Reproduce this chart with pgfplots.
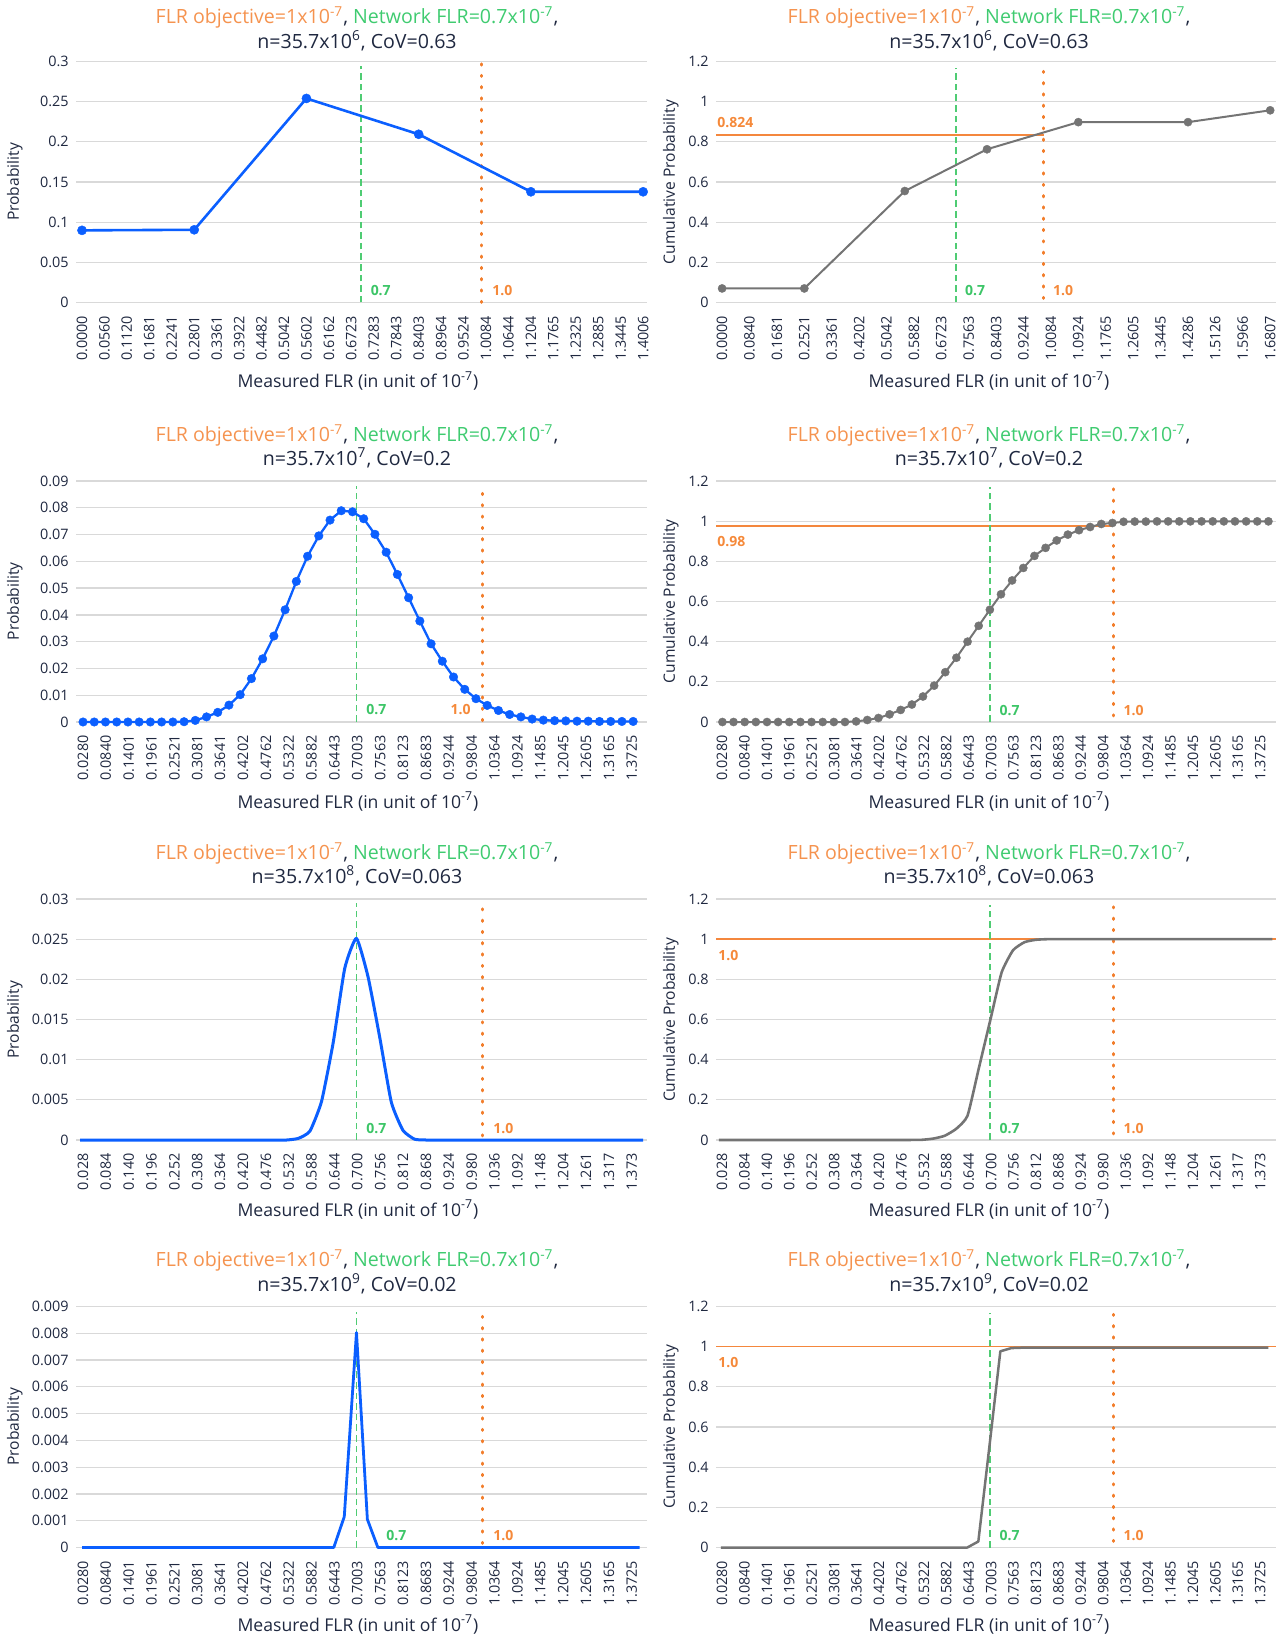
\documentclass[border=0pt]{standalone}
\usepackage{fontspec}
\setmainfont{Open Sans}
\usepackage{pgfplots}
\pgfplotsset{compat=1.18}

\definecolor{txt}{HTML}{1F2840}
\definecolor{gridc}{HTML}{D9D9D9}
\definecolor{blu}{HTML}{0B5FFF}
\definecolor{gry}{HTML}{747474}
\definecolor{orT}{HTML}{F5934F}
\definecolor{grT}{HTML}{3FCB70}
\definecolor{orL}{HTML}{F27E2C}
\definecolor{grL}{HTML}{4FCC73}
\definecolor{orH}{HTML}{F4873D}
\definecolor{orB}{HTML}{F5893A}
\definecolor{grB}{HTML}{3CC567}

\tikzset{
  grnline/.style={grL, line width=0.85pt, dash pattern=on 3.3pt off 2pt},
  ordots/.style={orL, line width=1.5pt, line cap=round, dash pattern=on 0.6pt off 5.05pt},
  bl/.style={blu, line width=1.3pt, line join=round},
  blm/.style={bl, mark=*, mark options={fill=blu, draw=blu, line width=0.2pt, solid}},
  gr/.style={gry, line width=1pt, line join=round},
  grm/.style={gr, mark=*, mark options={fill=gry, draw=gry, line width=0.2pt, solid}},
  orh/.style={orH, line width=0.8pt},
  lab/.style={font=\fontsize{7}{8}\selectfont\bfseries, inner sep=0pt},
  ttl/.style={anchor=base, font=\fontsize{9.8}{12}\selectfont, text=txt, inner sep=0pt},
  xl/.style={anchor=base, font=\fontsize{8.8}{11}\selectfont, text=txt, inner sep=0pt},
  yl/.style={rotate=90, font=\fontsize{7.8}{10}\selectfont, text=txt, inner sep=0pt},
}

\pgfplotsset{
  panel/.style={
    scale only axis, height=120.5pt, anchor=north west,
    axis line style={draw=none}, tick style={draw=none},
    ymajorgrids, major grid style={line width=0.65pt, draw=gridc},
    ymin=0, clip=false, scaled ticks=false,
    tick label style={font=\fontsize{7.2}{8}\selectfont, text=txt},
    xticklabel style={rotate=90, anchor=east, inner xsep=6.5pt, inner ysep=0pt},
    yticklabel style={anchor=east, inner xsep=3.5pt, inner ysep=0pt},
  },
  lpanel/.style={panel, width=285.25pt},
  rpanel/.style={panel, width=279.75pt},
  ticksA/.style={
    xtick={0.0000,0.0560,0.1120,0.1681,0.2241,0.2801,0.3361,0.3922,0.4482,0.5042,0.5602,0.6162,0.6723,0.7283,0.7843,0.8403,0.8964,0.9524,1.0084,1.0644,1.1204,1.1765,1.2325,1.2885,1.3445,1.4006},
    xticklabels={0.0000,0.0560,0.1120,0.1681,0.2241,0.2801,0.3361,0.3922,0.4482,0.5042,0.5602,0.6162,0.6723,0.7283,0.7843,0.8403,0.8964,0.9524,1.0084,1.0644,1.1204,1.1765,1.2325,1.2885,1.3445,1.4006}},
  ticksP/.style={
    xtick={0.0000,0.0840,0.1681,0.2521,0.3361,0.4202,0.5042,0.5882,0.6723,0.7563,0.8403,0.9244,1.0084,1.0924,1.1765,1.2605,1.3445,1.4286,1.5126,1.5966,1.6807},
    xticklabels={0.0000,0.0840,0.1681,0.2521,0.3361,0.4202,0.5042,0.5882,0.6723,0.7563,0.8403,0.9244,1.0084,1.0924,1.1765,1.2605,1.3445,1.4286,1.5126,1.5966,1.6807}},
  ticksB/.style={
    xtick={0.0280,0.0840,0.1401,0.1961,0.2521,0.3081,0.3641,0.4202,0.4762,0.5322,0.5882,0.6443,0.7003,0.7563,0.8123,0.8683,0.9244,0.9804,1.0364,1.0924,1.1485,1.2045,1.2605,1.3165,1.3725},
    xticklabels={0.0280,0.0840,0.1401,0.1961,0.2521,0.3081,0.3641,0.4202,0.4762,0.5322,0.5882,0.6443,0.7003,0.7563,0.8123,0.8683,0.9244,0.9804,1.0364,1.0924,1.1485,1.2045,1.2605,1.3165,1.3725}},
  ticksC/.style={
    xtick={0.0280,0.0840,0.1401,0.1961,0.2521,0.3081,0.3641,0.4202,0.4762,0.5322,0.5882,0.6443,0.7003,0.7563,0.8123,0.8683,0.9244,0.9804,1.0364,1.0924,1.1485,1.2045,1.2605,1.3165,1.3725},
    xticklabels={0.028,0.084,0.140,0.196,0.252,0.308,0.364,0.420,0.476,0.532,0.588,0.644,0.700,0.756,0.812,0.868,0.924,0.980,1.036,1.092,1.148,1.204,1.261,1.317,1.373}},
  cdfy/.style={ymax=1.2, ytick={0,0.2,0.4,0.6,0.8,1,1.2}, yticklabels={0,0.2,0.4,0.6,0.8,1,1.2}},
  lx/.style={xmin=0.0111, xmax=1.4085},
  rx/.style={xmin=0.0128, xmax=1.4107},
}

\newcommand\ttlA{{\color{orT}FLR objective=1x10\textsuperscript{-7}}, {\color{grT}Network FLR=0.7x10\textsuperscript{-7}},}
\newcommand\xlab{Measured FLR (in unit of 10\textsuperscript{-7})}

\begin{document}
\begin{tikzpicture}

% ---------------- Row 1 ----------------
\node[ttl] at (178.5pt,-11.8pt) {\ttlA};
\node[ttl] at (178.5pt,-24.05pt) {n=35.7x10\textsuperscript{6}, CoV=0.63};
\node[ttl] at (494.5pt,-11.8pt) {\ttlA};
\node[ttl] at (494.5pt,-24.05pt) {n=35.7x10\textsuperscript{6}, CoV=0.63};
\node[xl] at (179pt,-194pt) {\xlab};
\node[xl] at (494.5pt,-194pt) {\xlab};
\node[yl] at (7.35pt,-91pt) {Probability};
\node[yl] at (335.4pt,-91pt) {Cumulative Probability};

\begin{axis}[lpanel, at={(38pt,-30.75pt)}, ticksA, xmin=-0.015, xmax=1.409, ymax=0.3,
  ytick={0,0.05,0.1,0.15,0.2,0.25,0.3}, yticklabels={0,0.05,0.1,0.15,0.2,0.25,0.3}]
\addplot[grnline] coordinates {(0.696,0) (0.696,0.295)};
\addplot[ordots] coordinates {(0.996,0) (0.996,0.3)};
\addplot[blm, mark size=2.3pt] coordinates {(0,0.0898) (0.2801,0.0905) (0.5602,0.254) (0.8403,0.2094) (1.1204,0.1378) (1.4006,0.1378)};
\node[lab, text=grB, anchor=base west] at ([xshift=4.75pt,yshift=3.5pt]axis cs:0.696,0) {0.7};
\node[lab, text=orB, anchor=base west] at ([xshift=5.5pt,yshift=3.5pt]axis cs:0.996,0) {1.0};
\end{axis}

\begin{axis}[rpanel, at={(358pt,-30.75pt)}, ticksP, xmin=-0.0187, xmax=1.697, cdfy]
\addplot[orh] coordinates {(-0.0187,0.835) (0.986,0.835)};
\addplot[grnline] coordinates {(0.718,0) (0.718,1.17)};
\addplot[ordots] coordinates {(0.986,0.02) (0.986,1.17)};
\addplot[grm, mark size=2.05pt] coordinates {(0,0.07) (0.2521,0.07) (0.5602,0.555) (0.8123,0.763) (1.0924,0.898) (1.4286,0.898) (1.6807,0.957)};
\node[lab, text=orB, anchor=base west] at ([xshift=0.5pt,yshift=3.5pt]axis cs:-0.0187,0.835) {0.824};
\node[lab, text=grB, anchor=base west] at ([xshift=4.2pt,yshift=3.5pt]axis cs:0.718,0) {0.7};
\node[lab, text=orB, anchor=base west] at ([xshift=4.5pt,yshift=3.5pt]axis cs:0.986,0) {1.0};
\end{axis}

% ---------------- Row 2 ----------------
\node[ttl] at (178.5pt,-220.8pt) {\ttlA};
\node[ttl] at (178.5pt,-232.55pt) {n=35.7x10\textsuperscript{7}, CoV=0.2};
\node[ttl] at (494.5pt,-220.8pt) {\ttlA};
\node[ttl] at (494.5pt,-232.55pt) {n=35.7x10\textsuperscript{7}, CoV=0.2};
\node[xl] at (179pt,-404pt) {\xlab};
\node[xl] at (494.5pt,-404pt) {\xlab};
\node[yl] at (7.35pt,-300.6pt) {Probability};
\node[yl] at (335.4pt,-300.6pt) {Cumulative Probability};

\begin{axis}[lpanel, at={(38pt,-240.5pt)}, ticksB, lx, ymax=0.09,
  ytick={0,0.01,0.02,0.03,0.04,0.05,0.06,0.07,0.08,0.09}, yticklabels={0,0.01,0.02,0.03,0.04,0.05,0.06,0.07,0.08,0.09}]
\addplot[grnline] coordinates {(0.698,0) (0.698,0.088)};
\addplot[ordots] coordinates {(1.0057,0.0005) (1.0057,0.088)};
\addplot[blm, line width=1.15pt, mark size=2.15pt] coordinates {
(0.0283,0) (0.0558,0) (0.0833,0) (0.1108,0) (0.1383,0) (0.1658,0) (0.1933,0) (0.2208,0) (0.2483,0)
(0.2758,0.0001) (0.3033,0.0006) (0.3308,0.0019) (0.3583,0.0036) (0.3858,0.0063) (0.4133,0.0102)
(0.4408,0.0162) (0.4683,0.0236) (0.4958,0.0321) (0.5233,0.0419) (0.5508,0.0525) (0.5783,0.0619)
(0.6058,0.0695) (0.6333,0.0754) (0.6608,0.0789) (0.6883,0.0785) (0.7158,0.0759) (0.7433,0.0701)
(0.7708,0.0634) (0.7983,0.0551) (0.8258,0.0464) (0.8533,0.0377) (0.8808,0.0292) (0.9083,0.0227)
(0.9358,0.0168) (0.9633,0.0122) (0.9908,0.0087) (1.0183,0.0062) (1.0458,0.0043) (1.0733,0.0028)
(1.1008,0.0019) (1.1283,0.0011) (1.1558,0.0007) (1.1833,0.0005) (1.2108,0.0004) (1.2383,0.0003)
(1.2658,0.0003) (1.2933,0.0002) (1.3208,0.0002) (1.3483,0.0002) (1.3758,0.0002)};
\node[lab, text=grB, anchor=base west] at ([xshift=4.75pt,yshift=3.5pt]axis cs:0.698,0) {0.7};
\node[lab, text=orB, anchor=base east] at ([xshift=-5.5pt,yshift=3.5pt]axis cs:1.0057,0) {1.0};
\end{axis}

\begin{axis}[rpanel, at={(358pt,-240.5pt)}, ticksB, rx, cdfy]
\addplot[orh] coordinates {(0.0128,0.975) (1.0055,0.975)};
\addplot[grnline] coordinates {(0.698,0) (0.698,1.17)};
\addplot[ordots] coordinates {(1.0055,0.03) (1.0055,1.17)};
\addplot[grm, mark size=2.05pt] coordinates {
(0.0288,0) (0.0566,0) (0.0845,0) (0.1123,0) (0.1402,0) (0.1680,0) (0.1958,0) (0.2237,0) (0.2515,0)
(0.2794,0) (0.3072,0) (0.3350,0) (0.3629,0.003) (0.3907,0.010) (0.4186,0.020) (0.4464,0.038)
(0.4742,0.060) (0.5021,0.087) (0.5299,0.127) (0.5578,0.181) (0.5856,0.248) (0.6134,0.320)
(0.6413,0.400) (0.6691,0.479) (0.6970,0.559) (0.7248,0.636) (0.7526,0.705) (0.7805,0.767)
(0.8083,0.827) (0.8362,0.867) (0.8640,0.904) (0.8918,0.933) (0.9197,0.955) (0.9475,0.971)
(0.9754,0.986) (1.0032,0.991) (1.0310,0.997) (1.0589,0.998) (1.0867,0.998) (1.1146,0.999)
(1.1424,0.999) (1.1702,0.999) (1.1981,0.999) (1.2259,0.999) (1.2538,0.999) (1.2816,0.999)
(1.3094,0.999) (1.3373,0.999) (1.3651,0.999) (1.3930,0.999)};
\node[lab, text=orB, anchor=base west] at ([xshift=0.5pt,yshift=-10.15pt]axis cs:0.0128,0.975) {0.98};
\node[lab, text=grB, anchor=base west] at ([xshift=4.5pt,yshift=3.5pt]axis cs:0.698,0) {0.7};
\node[lab, text=orB, anchor=base west] at ([xshift=5pt,yshift=3.5pt]axis cs:1.0055,0) {1.0};
\end{axis}

% ---------------- Row 3 ----------------
\node[ttl] at (178.5pt,-429.8pt) {\ttlA};
\node[ttl] at (178.5pt,-441.55pt) {n=35.7x10\textsuperscript{8}, CoV=0.063};
\node[ttl] at (494.5pt,-429.8pt) {\ttlA};
\node[ttl] at (494.5pt,-441.55pt) {n=35.7x10\textsuperscript{8}, CoV=0.063};
\node[xl] at (179pt,-608.25pt) {\xlab};
\node[xl] at (494.5pt,-608.25pt) {\xlab};
\node[yl] at (7.35pt,-509.9pt) {Probability};
\node[yl] at (335.4pt,-509.9pt) {Cumulative Probability};

\begin{axis}[lpanel, at={(38pt,-449.5pt)}, ticksC, lx, ymax=0.03,
  ytick={0,0.005,0.01,0.015,0.02,0.025,0.03}, yticklabels={0,0.005,0.01,0.015,0.02,0.025,0.03}]
\addplot[grnline] coordinates {(0.698,0) (0.698,0.0295)};
\addplot[ordots] coordinates {(1.0057,0.0005) (1.0057,0.0293)};
\addplot[bl, line width=1.5pt, smooth, tension=0.3] coordinates {
(0.021,0) (0.47,0) (0.4985,0) (0.527,0) (0.5555,0.0002) (0.584,0.0011) (0.6125,0.0048)
(0.641,0.0121) (0.6695,0.0214) (0.698,0.0251) (0.7265,0.0203) (0.755,0.0128) (0.7835,0.0047)
(0.812,0.0012) (0.8405,0.0001) (0.869,0) (0.8975,0) (1.4003,0)};
\node[lab, text=grB, anchor=base west] at ([xshift=4.75pt,yshift=3.5pt]axis cs:0.698,0) {0.7};
\node[lab, text=orB, anchor=base west] at ([xshift=5.5pt,yshift=3.5pt]axis cs:1.0057,0) {1.0};
\end{axis}

\begin{axis}[rpanel, at={(358pt,-449.5pt)}, ticksC, rx, cdfy]
\addplot[orh] coordinates {(0.0128,1) (1.4107,1)};
\addplot[grnline] coordinates {(0.698,0) (0.698,1.17)};
\addplot[ordots] coordinates {(1.0055,0.03) (1.0055,1.17)};
\addplot[gr, line width=1.3pt, smooth, tension=0.3] coordinates {
(0.020,0) (0.44,0) (0.47,0) (0.4985,0.0003) (0.527,0.001) (0.5555,0.007) (0.584,0.021)
(0.6125,0.055) (0.641,0.12) (0.6695,0.358) (0.698,0.596) (0.7265,0.835) (0.755,0.945)
(0.7835,0.985) (0.812,0.997) (0.8405,1.0) (0.869,1.0) (1.403,1.0)};
\node[lab, text=orB, anchor=base west] at ([xshift=1pt,yshift=-10.7pt]axis cs:0.0128,1) {1.0};
\node[lab, text=grB, anchor=base west] at ([xshift=4.5pt,yshift=3.5pt]axis cs:0.698,0) {0.7};
\node[lab, text=orB, anchor=base west] at ([xshift=5pt,yshift=3.5pt]axis cs:1.0055,0) {1.0};
\end{axis}

% ---------------- Row 4 ----------------
\node[ttl] at (178.5pt,-633.3pt) {\ttlA};
\node[ttl] at (178.5pt,-645.55pt) {n=35.7x10\textsuperscript{9}, CoV=0.02};
\node[ttl] at (494.5pt,-633.3pt) {\ttlA};
\node[ttl] at (494.5pt,-645.55pt) {n=35.7x10\textsuperscript{9}, CoV=0.02};
\node[xl] at (179pt,-815.75pt) {\xlab};
\node[xl] at (494.5pt,-815.75pt) {\xlab};
\node[yl] at (7.35pt,-713.4pt) {Probability};
\node[yl] at (335.4pt,-713.4pt) {Cumulative Probability};

\begin{axis}[lpanel, at={(38pt,-653.25pt)}, ticksB, lx, ymax=0.009,
  ytick={0,0.001,0.002,0.003,0.004,0.005,0.006,0.007,0.008,0.009}, yticklabels={0,0.001,0.002,0.003,0.004,0.005,0.006,0.007,0.008,0.009}]
\addplot[grnline] coordinates {(0.698,0) (0.698,0.0088)};
\addplot[ordots] coordinates {(1.0057,0.00015) (1.0057,0.0088)};
\addplot[bl, line width=1.4pt] coordinates {
(0.0258,0) (0.6425,0) (0.6682,0.00115) (0.6981,0.00803) (0.7248,0.00105) (0.7505,0) (1.3917,0)};
\node[lab, text=grB, anchor=base west] at ([xshift=14.75pt,yshift=3.5pt]axis cs:0.698,0) {0.7};
\node[lab, text=orB, anchor=base west] at ([xshift=5.5pt,yshift=3.5pt]axis cs:1.0057,0) {1.0};
\end{axis}

\begin{axis}[rpanel, at={(358pt,-653.25pt)}, ticksB, rx, cdfy]
\addplot[orh] coordinates {(0.0128,1) (1.4107,1)};
\addplot[grnline] coordinates {(0.698,0) (0.698,1.17)};
\addplot[ordots] coordinates {(1.0055,0.03) (1.0055,1.17)};
\addplot[gr, line width=1.25pt] coordinates {
(0.025,0) (0.6407,0) (0.6682,0.03) (0.6957,0.5) (0.7232,0.977) (0.7507,0.993) (0.7782,0.995) (1.3929,0.995)};
\node[lab, text=orB, anchor=base west] at ([xshift=1pt,yshift=-10.3pt]axis cs:0.0128,1) {1.0};
\node[lab, text=grB, anchor=base west] at ([xshift=4.5pt,yshift=3.5pt]axis cs:0.698,0) {0.7};
\node[lab, text=orB, anchor=base west] at ([xshift=5pt,yshift=3.5pt]axis cs:1.0055,0) {1.0};
\end{axis}

\pgfresetboundingbox
\path[use as bounding box] (0pt,0pt) rectangle (642pt,-818pt);
\end{tikzpicture}
\end{document}
